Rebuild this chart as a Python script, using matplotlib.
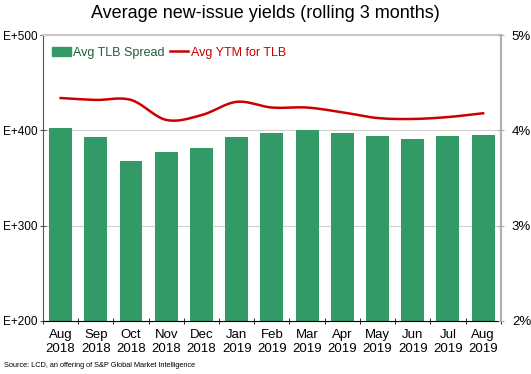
import numpy as np
import matplotlib
matplotlib.use("Agg")
import matplotlib.pyplot as plt
from matplotlib.patches import Patch
from matplotlib.lines import Line2D

plt.rcParams["font.family"] = ["Liberation Sans", "DejaVu Sans"]

months = ["Aug\n2018", "Sep\n2018", "Oct\n2018", "Nov\n2018", "Dec\n2018", "Jan\n2019",
          "Feb\n2019", "Mar\n2019", "Apr\n2019", "May\n2019", "Jun\n2019", "Jul\n2019", "Aug\n2019"]
tlb_spread = [402, 393, 368, 377, 382, 393, 397, 400, 397, 394, 391, 394, 395]
ytm_tlb = [4.34, 4.32, 4.32, 4.11, 4.16, 4.30, 4.24, 4.24, 4.19, 4.13, 4.12, 4.14, 4.18]
left_ticks = [200, 300, 400, 500]
left_labels = ["E+200", "E+300", "E+400", "E+500"]
right_ticks = [2, 3, 4, 5]
right_labels = ["2%", "3%", "4%", "5%"]

bar_color = "#339966"
line_color = "#cc0000"


def smooth(x, y, n=20):
    # catmull-rom style smoothing, like Excel's smoothed line
    x = np.asarray(x, float)
    y = np.asarray(y, float)
    px = np.concatenate([[2 * x[0] - x[1]], x, [2 * x[-1] - x[-2]]])
    py = np.concatenate([[2 * y[0] - y[1]], y, [2 * y[-1] - y[-2]]])
    xs, ys = [], []
    t = np.linspace(0, 1, n, endpoint=False)
    for i in range(1, len(px) - 2):
        p0, p1, p2, p3 = py[i - 1], py[i], py[i + 1], py[i + 2]
        ys.append(0.5 * (2 * p1 + (-p0 + p2) * t + (2 * p0 - 5 * p1 + 4 * p2 - p3) * t ** 2
                         + (-p0 + 3 * p1 - 3 * p2 + p3) * t ** 3))
        xs.append(px[i] + (px[i + 1] - px[i]) * t)
    xs.append([x[-1]])
    ys.append([y[-1]])
    return np.concatenate(xs), np.concatenate(ys)


fig = plt.figure(figsize=(5.31, 3.74), dpi=100)
ax = fig.add_axes([0.081, 0.142, 0.862, 0.764])
x = np.arange(len(months))

ax.bar(x, tlb_spread, width=0.65, color=bar_color, zorder=2)
ax.set_xlim(-0.5, len(months) - 0.5)
ax.set_ylim(200, 500)
ax.set_yticks(left_ticks)
ax.set_yticklabels(left_labels, fontsize=8.5)
ax.yaxis.grid(True, color="#d0d0d0", lw=0.8, zorder=0)
ax.set_xticks(x)
ax.set_xticklabels(months, fontsize=9.5, linespacing=1.25)
ax.set_xticks(np.arange(-0.5, len(months), 1), minor=True)
ax.tick_params(axis="x", which="major", length=0, pad=6)
ax.tick_params(axis="x", which="minor", length=4, direction="inout", color="black")
ax.tick_params(axis="y", length=4, direction="inout", color="#555555", pad=2)
for s in ["top", "right"]:
    ax.spines[s].set_color("#c8c8c8")
    ax.spines[s].set_linewidth(1.5)
ax.spines["bottom"].set_color("black")
ax.spines["left"].set_color("#555555")

ax2 = ax.twinx()
sx, sy = smooth(x, ytm_tlb)
ax2.plot(sx, sy, color=line_color, lw=1.8, zorder=3)
ax2.set_ylim(2, 5)
ax2.set_yticks(right_ticks)
ax2.set_yticklabels(right_labels, fontsize=9.5)
ax2.tick_params(axis="y", length=4, direction="inout", color="#aaaaaa", pad=6)
ax2.spines["right"].set_color("#b0b0b0")
ax2.spines["right"].set_linewidth(1.5)
for s in ["top", "left", "bottom"]:
    ax2.spines[s].set_visible(False)

handles = [Patch(color=bar_color), Line2D([0], [0], color=line_color, lw=1.8)]
leg = ax.legend(handles, ["Avg TLB Spread", "Avg YTM for TLB"], loc="upper left", ncol=2,
                frameon=False, fontsize=9, handlelength=1.5, handletextpad=0.2,
                columnspacing=0.4, bbox_to_anchor=(0.0, 0.99), borderaxespad=0.3)
leg.get_texts()[0].set_color("#1f5e3a")
leg.get_texts()[1].set_color(line_color)

fig.text(0.5, 0.965, "Average new-issue yields (rolling 3 months)", ha="center", va="center",
         fontsize=13)
fig.text(0.008, 0.022, "Source: LCD, an offering of S&P Global Market Intelligence",
         fontsize=5.3, ha="left", va="center")

fig.savefig("out.png", dpi=100)
